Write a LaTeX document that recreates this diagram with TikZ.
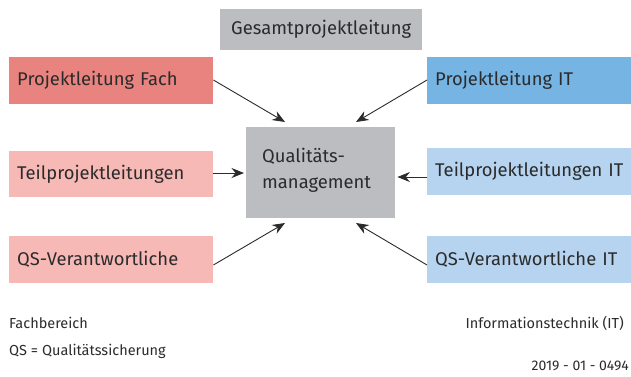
\documentclass[tikz,border=0pt]{standalone}
\usepackage{fontspec}
\setmainfont{Fira Sans}
\usetikzlibrary{arrows.meta}
\definecolor{qgray}{HTML}{BCBDC0}
\definecolor{fachdark}{HTML}{E8837F}
\definecolor{fachlight}{HTML}{F7B9B6}
\definecolor{itdark}{HTML}{76B4E4}
\definecolor{itlight}{HTML}{B6D4F0}
\definecolor{txt}{HTML}{2B2B2B}
\tikzset{
  box/.style={anchor=north west, inner xsep=8pt, inner ysep=0pt,
    minimum width=204pt, minimum height=47pt, text width=188pt, align=left,
    font=\fontsize{18.4}{22}\selectfont, text=txt},
  arr/.style={-{Stealth[length=12.5pt,width=10pt]}, line width=0.9pt, draw=txt},
  note/.style={font=\fontsize{14.5}{17}\selectfont, text=txt, inner sep=0pt}
}
\begin{document}
\begin{tikzpicture}[x=1pt,y=-1pt]
\useasboundingbox (0,0) rectangle (631,376);
\node[box, fill=qgray, minimum width=202pt, minimum height=41pt, text width=186pt, align=center] (gpl) at (220,9) {Gesamtprojektleitung};
\node[box, fill=fachdark] (plf) at (9,57) {Projektleitung Fach};
\node[box, fill=itdark] (plit) at (427,57) {Projektleitung IT};
\node[box, fill=fachlight, minimum height=46pt] (tpl) at (9,151) {Teilprojektleitungen};
\node[box, fill=itlight] (tplit) at (427,148) {\mbox{Teilprojektleitungen IT}};
\node[box, fill=fachlight] (qs) at (9,236) {QS-Verantwortliche};
\node[box, fill=itlight] (qsit) at (427,236) {QS-Verantwortliche IT};
\node[box, fill=qgray, minimum width=149pt, minimum height=91pt, text width=117pt, inner xsep=16pt, font=\fontsize{18.4}{26}\selectfont] (qm) at (246,127) {\raisebox{5pt}{Qualitäts-}\\[-5pt]management\vspace*{5pt}};
\coordinate (qmFach) at (285,122);
\coordinate (qmIT) at (356,122);
\coordinate (qmQS) at (285,223);
\coordinate (qmQSIT) at (356,223);
\draw[arr] (plf.east |- 0,80) -- (qmFach);
\draw[arr] (plit.west |- 0,80) -- (qmIT);
\draw[arr] (tpl.east |- 0,173) -- ([xshift=-2pt]qm.west |- 0,173);
\draw[arr] (tplit.west |- 0,177) -- ([xshift=2pt]qm.east |- 0,177);
\draw[arr] (qs.east |- 0,265) -- (qmQS);
\draw[arr] (qsit.west |- 0,265) -- (qmQSIT);
\node[note, anchor=base west] (fb) at (9,328) {Fachbereich};
\node[note, anchor=base west] (qsdef) at (9,355) {QS = Qualitätssicherung};
\node[note, anchor=base east] (itn) at (624,328) {Informationstechnik (IT)};
\node[note, anchor=base east, font=\fontsize{14}{16}\selectfont] (num) at (629,370) {2019 - 01 - 0494};
\end{tikzpicture}
\end{document}
